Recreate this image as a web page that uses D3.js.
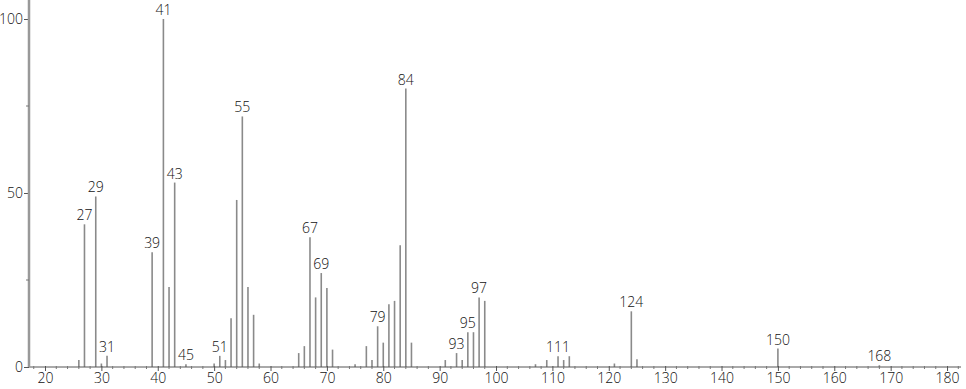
<!DOCTYPE html>
<html>
    <head>
        <style>
            body{
                margin: 0;
                background: #fff;
            }
            text{
                font-family: "Open Sans", "DejaVu Sans", sans-serif;
                font-weight: 300;
            }
        </style>
    </head>
    <body>
        <script src="https://d3js.org/d3.v7.min.js"></script>
        <script>
            // m/z and relative intensity
            const mz = [26, 27, 29, 30, 31, 39, 41, 42, 43, 45, 50, 51, 52, 53, 54, 55, 56, 57, 58,
                        65, 66, 67, 68, 69, 70, 71, 75, 77, 78, 79, 80, 81, 82, 83, 84, 85,
                        91, 93, 94, 95, 96, 97, 98, 107, 109, 111, 112, 113, 121, 124, 125, 150, 168]
            const intensity = [2, 41, 49, 1, 3.2, 33, 100, 23, 53, 0.8, 1, 3.2, 2, 14, 48, 72, 23, 15, 1,
                               4, 6, 37.3, 20, 27, 22.7, 5, 0.8, 6, 2, 11.7, 7, 18, 19, 35, 80, 7,
                               2, 4, 2, 10, 10, 20, 19, 0.8, 2, 3.1, 2, 3.1, 1, 16, 2.2, 5.3, 0.5]
            const labelled = [27, 29, 31, 39, 41, 43, 45, 51, 55, 67, 69, 79, 84, 93, 95, 97, 111, 124, 150, 168]
            const xTicks = [20, 30, 40, 50, 60, 70, 80, 90, 100, 110, 120, 130, 140, 150, 160, 170, 180]
            const yTicks = [0, 50, 100]

            const w = 966
            const h = 389

            const svg = d3.select("body").append("svg").attr("width", w).attr("height", h)

            const x = d3.scaleLinear().domain([17.16, 182.3]).range([29, 960])
            const y = d3.scaleLinear().domain([0, 100]).range([367, 19])

            const peaks = mz.map((m, i) => ({m: m, v: intensity[i]}))

            // sticks
            svg.selectAll("line.peak").data(peaks).enter().append("line")
                .attr("class", "peak")
                .attr("x1", d => x(d.m)).attr("x2", d => x(d.m))
                .attr("y1", y(0)).attr("y2", d => y(d.v))
                .attr("stroke", "#8a8a8a")
                .attr("stroke-width", 1.6)

            // x axis
            const xAxis = d3.axisBottom(x).tickValues(xTicks).tickSize(4).tickPadding(2)
            const gx = svg.append("g").attr("transform", "translate(0," + y(0) + ")").call(xAxis)
            gx.select(".domain").remove()
            gx.append("line").attr("x1", 29).attr("x2", 961).attr("stroke", "#555")
            gx.selectAll(".tick line").attr("stroke", "#555").attr("y1", -1).attr("y2", 4)
            gx.selectAll("text").attr("font-size", 14).attr("fill", "#111")

            const minor = d3.range(18, 183, 2).filter(v => v % 10 != 0)
            gx.selectAll("line.minor").data(minor).enter().append("line")
                .attr("class", "minor")
                .attr("x1", d => x(d)).attr("x2", d => x(d))
                .attr("y1", -1).attr("y2", 2)
                .attr("stroke", "#777")

            // y axis
            const yAxis = d3.axisLeft(y).tickValues(yTicks).tickSize(5).tickPadding(1)
            const gy = svg.append("g").attr("transform", "translate(29,0)").call(yAxis)
            gy.select(".domain").remove()
            gy.append("line").attr("y1", 0).attr("y2", y(0)).attr("stroke", "#999").attr("stroke-width", 2.5)
            gy.selectAll(".tick line").attr("stroke", "#555")
            gy.selectAll("text").attr("font-size", 14).attr("fill", "#111")
            gy.selectAll("line.minor").data([25, 75]).enter().append("line")
                .attr("class", "minor")
                .attr("x1", -3).attr("x2", 0)
                .attr("y1", d => y(d)).attr("y2", d => y(d))
                .attr("stroke", "#777")

            // peak labels
            svg.selectAll("text.lab").data(peaks.filter(d => labelled.includes(d.m))).enter().append("text")
                .attr("class", "lab")
                .attr("x", d => x(d.m))
                .attr("y", d => y(d.v) - 4)
                .attr("text-anchor", "middle")
                .attr("font-size", 14)
                .attr("fill", "#111")
                .text(d => d.m)
        </script>
    </body>
</html>
